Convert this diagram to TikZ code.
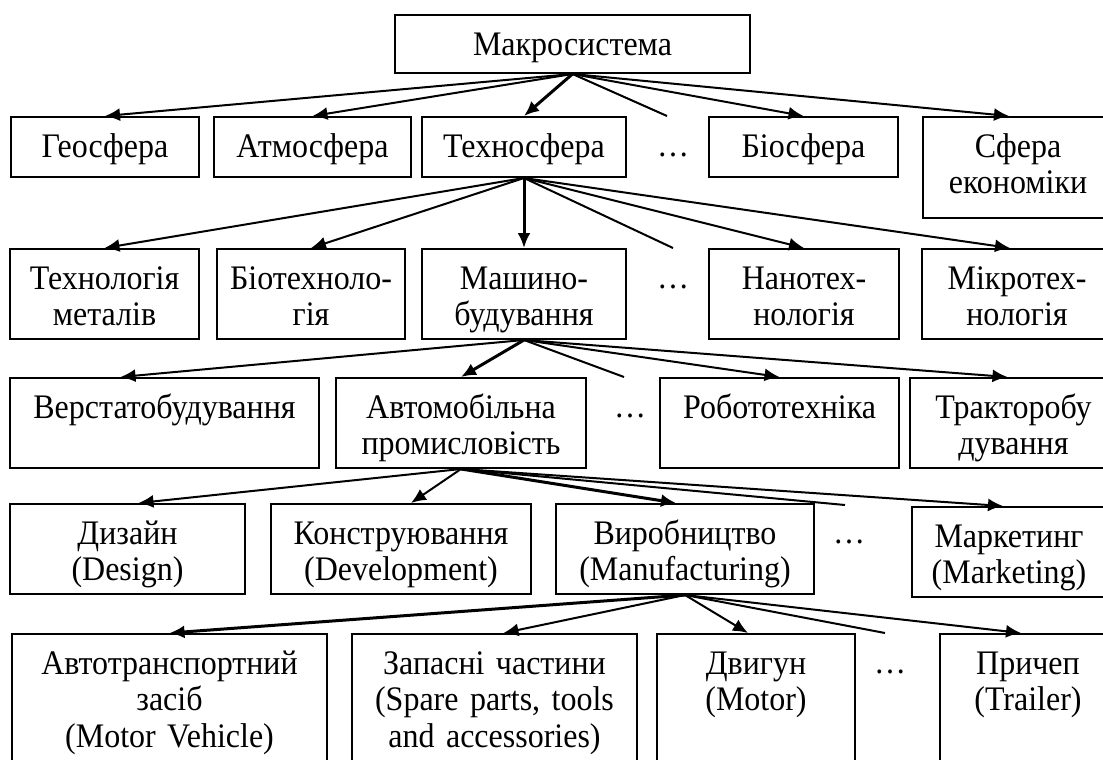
\documentclass[tikz,border=0pt]{standalone}
\usepackage{fontspec}
\setmainfont{Liberation Serif}[FakeStretch=0.93]
\usepackage{tikz}
\usetikzlibrary{arrows.meta}
\tikzstyle{block} = [rectangle, draw, line width=1pt, align=center, anchor=north,
    inner xsep=0pt, inner ysep=0pt, text height=20pt, font=\fontsize{17.2}{18.25}\selectfont]
\tikzstyle{short} = [text depth=10pt]
\tikzstyle{tall} = [text depth=25pt]
\tikzstyle{dots} = [anchor=base, inner sep=0pt, font=\fontsize{17.2}{18.25}\selectfont]
\tikzstyle{line} = [draw, line width=1pt, -{Latex[length=7.5pt,width=6.5pt]}]
\tikzstyle{mainline} = [line, line width=1.5pt]
\tikzstyle{stub} = [draw, line width=1pt]

\begin{document}
\begin{tikzpicture}[x=0.5pt, y=-0.5pt]
      \useasboundingbox (0,0) rectangle (1103,760);

      \node [block, short, text depth=9pt, text width=177.5pt] (macro) at (572.5,14) {Макросистема};

      \node [block, short, text width=94pt] (geo) at (105,116) {Геосфера};
      \node [block, short, text width=98.5pt] (atmo) at (312.5,116) {Атмосфера};
      \node [block, short, text width=102pt] (techno) at (524,116) {Техносфера};
      \node [dots] (dots1) at (673,156) {…};
      \node [block, short, text width=94.5pt] (bio) at (803.5,116) {Біосфера};
      \node [block, text depth=30.5pt, text width=95pt] (econ) at (1018,116) {Сфера\\економіки};

      \node [block, tall, text width=94.5pt] (techmet) at (104.5,248) {Технологія\\металів};
      \node [block, tall, text width=94pt] (biotech) at (311,248) {Біотехноло-\\гія};
      \node [block, tall, text width=102pt] (mash) at (524,248) {Машино-\\будування};
      \node [dots] (dots2) at (673,288) {…};
      \node [block, tall, text width=95pt] (nano) at (804,248) {Нанотех-\\нологія};
      \node [block, tall, text width=95pt] (micro) at (1017,248) {Мікротех-\\нологія};

      \node [block, tall, text width=154.5pt] (verst) at (164.5,377) {Верстатобудування};
      \node [block, tall, text width=125pt] (auto) at (461,377) {Автомобільна\\промисловість};
      \node [dots] (dots3) at (630,417) {…};
      \node [block, tall, text width=119.5pt] (robo) at (779.5,377) {Робототехніка};
      \node [block, tall, text width=103.5pt] (tractor) at (1013.5,377) {Тракторобу\\дування};

      \node [block, tall, text width=117.5pt] (design) at (127.5,503) {Дизайн\\(Design)};
      \node [block, tall, text width=130pt] (constr) at (401,503) {Конструювання\\(Development)};
      \node [block, tall, text width=129pt] (manuf) at (685,503) {Виробництво\\(Manufacturing)};
      \node [dots] (dots4) at (849,543) {…};
      \node [block, tall, text width=97pt] (market) at (1009,506) {Маркетинг\\(Marketing)};

      \node [block, text depth=50pt, text width=157.5pt] (vehicle) at (169.5,633)
         {Автотранспортний\\засіб\\(Motor Vehicle)};
      \node [block, text depth=50pt, text width=142.5pt] (parts) at (494.5,633)
         {Запасні частини\\(Spare parts, tools\\and accessories)};
      \node [block, text depth=50pt, text width=99pt] (motor) at (756,633) {Двигун\\(Motor)};
      \node [dots] (dots5) at (890,673) {…};
      \node [block, text depth=50pt, text width=88pt] (trailer) at (1028,633) {Причеп\\(Trailer)};

      \coordinate (gap1) at (667,116);
      \coordinate (gap2) at (673,248);
      \coordinate (gap3) at (624,377);
      \coordinate (gap4) at (845,505);
      \coordinate (gap5) at (885,633);

      \path [line] (macro.south) -- (geo.north);
      \path [line] (macro.south) -- (atmo.north);
      \path [mainline] (macro.south) -- (techno.north);
      \path [stub] (macro.south) -- (gap1);
      \path [line] (macro.south) -- (bio.north);
      \path [line] (macro.south) -- ([xshift=-4.5pt]econ.north);

      \path [line] (techno.south) -- (techmet.north);
      \path [line] (techno.south) -- (biotech.north);
      \path [mainline] (techno.south) -- (mash.north);
      \path [stub] (techno.south) -- (gap2);
      \path [line] (techno.south) -- (nano.north);
      \path [line] (techno.south) -- ([xshift=-3.5pt]micro.north);

      \path [line] (mash.south) -- ([xshift=-22pt]verst.north);
      \path [mainline] (mash.south) -- (auto.north);
      \path [stub] (mash.south) -- (gap3);
      \path [line] (mash.south) -- (robo.north);
      \path [line] (mash.south) -- ([xshift=-3pt]tractor.north);

      \path [line] (auto.south) -- ([xshift=5.5pt]design.north);
      \path [line] (auto.south) -- ([xshift=5pt]constr.north);
      \path [mainline] (auto.south) -- ([xshift=-4.5pt]manuf.north);
      \path [stub] (auto.south) -- (gap4);
      \path [line] (auto.south) -- ([xshift=-3pt]market.north);

      \path [mainline] (manuf.south) -- (vehicle.north);
      \path [line] (manuf.south) -- ([xshift=4.5pt]parts.north);
      \path [line] (manuf.south) -- ([xshift=-4pt]motor.north);
      \path [stub] (manuf.south) -- (gap5);
      \path [line] (manuf.south) -- ([xshift=-3.5pt]trailer.north);
   \end{tikzpicture}
\end{document}
